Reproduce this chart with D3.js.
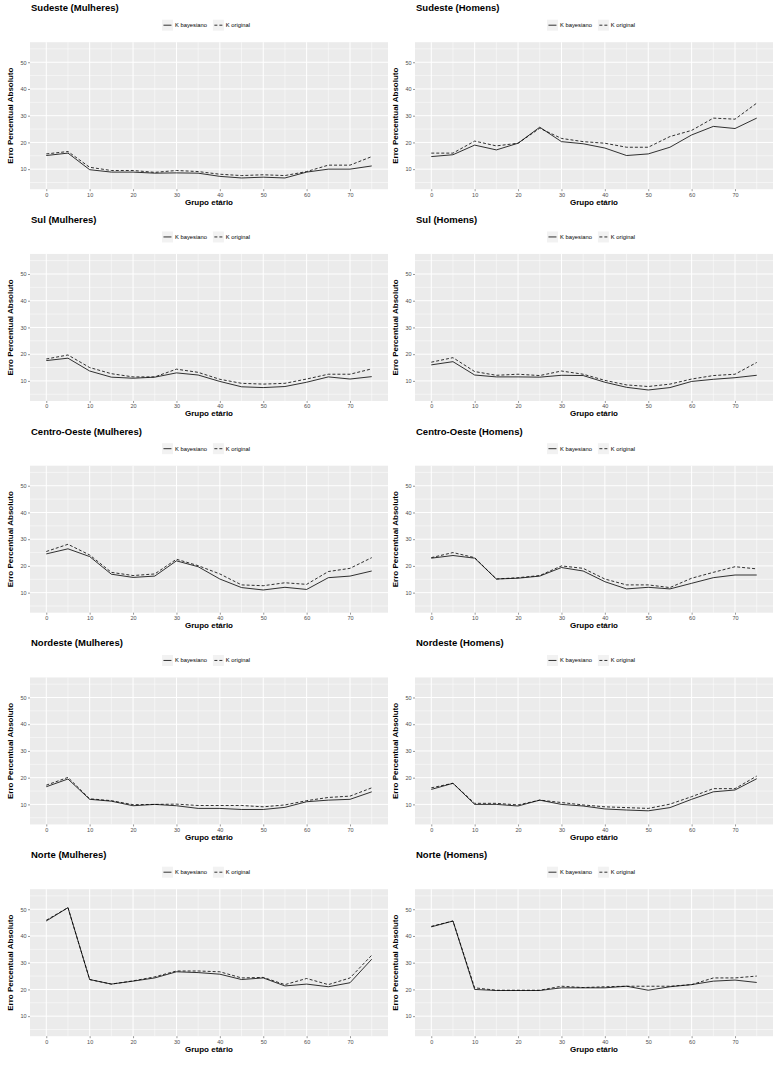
<!DOCTYPE html>
<html><head><meta charset="utf-8">
<script src="https://cdn.jsdelivr.net/npm/d3@7"></script>
<style>
body{margin:0;background:#fff}
svg{display:block}
text{font-family:"Liberation Sans",Arial,Helvetica,sans-serif}
</style>
</head><body>
<svg id="chart" width="784" height="1073"></svg>
<script>
// ---------- data ----------
const ages = [0,5,10,15,20,25,30,35,40,45,50,55,60,65,70,75];
const xTickValues = [0,10,20,30,40,50,60,70];
const yTickValues = [10,20,30,40,50];
const seriesLabels = ["K bayesiano","K original"];
const xAxisTitle = "Grupo etário";
const yAxisTitle = "Erro Percentual Absoluto";
const panelTitles = [
  "Sudeste (Mulheres)","Sudeste (Homens)",
  "Sul (Mulheres)","Sul (Homens)",
  "Centro-Oeste (Mulheres)","Centro-Oeste (Homens)",
  "Nordeste (Mulheres)","Nordeste (Homens)",
  "Norte (Mulheres)","Norte (Homens)"
];

const sudesteMulheresBayes = [15.1,16.0,9.8,8.9,8.9,8.5,8.6,8.5,7.3,6.7,7.0,6.7,8.9,10.0,10.0,11.2];
const sudesteMulheresOrig  = [15.7,16.6,10.7,9.5,9.5,8.8,9.5,9.1,8.1,7.6,7.9,7.6,9.1,11.5,11.5,14.7];
const sudesteHomensBayes   = [14.7,15.4,19.0,17.2,19.7,25.7,20.3,19.5,17.9,15.1,15.7,18.2,22.8,26.0,25.2,29.1];
const sudesteHomensOrig    = [16.0,16.0,20.5,18.7,19.7,25.3,21.5,20.3,19.7,18.2,18.2,22.2,24.5,29.1,28.7,34.7];
const sulMulheresBayes     = [17.6,18.5,13.7,11.4,11.0,11.4,13.0,12.2,9.8,7.8,7.5,7.9,9.5,11.5,10.7,11.6];
const sulMulheresOrig      = [18.2,19.7,15.0,12.7,11.5,11.5,14.4,13.2,10.6,9.1,8.8,9.1,10.7,12.5,12.5,14.5];
const sulHomensBayes       = [16.0,17.2,12.2,11.5,11.5,11.4,12.1,12.0,9.5,7.6,6.6,7.5,9.8,10.6,11.2,12.1];
const sulHomensOrig        = [17.0,18.7,13.5,12.1,12.5,12.0,13.7,12.5,10.2,8.5,7.9,8.8,10.7,12.0,12.5,16.9];
const coMulheresBayes      = [24.5,26.4,23.5,16.9,15.7,16.2,21.9,19.7,15.1,11.9,11.0,12.0,11.2,15.6,16.2,18.1];
const coMulheresOrig       = [25.4,28.1,24.1,17.6,16.4,17.0,22.5,20.1,17.0,12.9,12.6,13.7,13.1,17.9,19.1,23.1];
const coHomensBayes        = [22.9,23.9,22.9,15.1,15.4,16.2,19.4,18.1,14.1,11.4,12.0,11.4,13.5,15.6,16.6,16.6];
const coHomensOrig         = [23.1,25.0,23.1,15.1,15.6,16.4,20.0,19.1,15.1,12.9,12.9,11.9,15.4,17.6,19.7,18.9];
const nordesteMulheresBayes= [16.6,19.5,11.9,11.2,9.5,10.0,9.5,8.5,8.5,8.1,8.1,8.9,11.0,11.6,11.9,14.7];
const nordesteMulheresOrig = [17.2,20.1,12.1,11.4,9.9,10.0,10.1,9.6,9.6,9.6,9.1,9.8,11.4,12.6,13.1,16.2];
const nordesteHomensBayes  = [15.6,17.9,10.0,10.0,9.4,11.6,10.0,9.4,8.3,7.9,7.6,8.8,11.9,14.7,15.4,19.6];
const nordesteHomensOrig   = [16.2,17.9,10.4,10.4,9.8,11.6,10.7,9.8,9.1,8.8,8.5,10.1,12.9,15.9,15.9,20.6];
const norteMulheresBayes   = [45.6,50.6,23.7,22.0,23.1,24.3,26.6,26.3,25.7,23.7,24.3,21.3,22.0,21.0,22.5,31.3];
const norteMulheresOrig    = [45.9,50.6,23.7,22.0,23.2,24.7,26.9,26.9,26.6,24.3,24.5,21.8,24.1,21.8,24.3,32.8];
const norteHomensBayes     = [43.4,45.6,20.0,19.6,19.6,19.6,20.6,20.6,20.6,21.2,19.7,21.0,21.8,23.1,23.5,22.6];
const norteHomensOrig      = [43.6,45.6,20.6,19.7,19.7,19.7,21.2,20.7,21.0,21.2,21.2,21.2,21.8,24.3,24.3,25.0];

const bayesSeries = [sudesteMulheresBayes,sudesteHomensBayes,sulMulheresBayes,sulHomensBayes,
  coMulheresBayes,coHomensBayes,nordesteMulheresBayes,nordesteHomensBayes,norteMulheresBayes,norteHomensBayes];
const origSeries = [sudesteMulheresOrig,sudesteHomensOrig,sulMulheresOrig,sulHomensOrig,
  coMulheresOrig,coHomensOrig,nordesteMulheresOrig,nordesteHomensOrig,norteMulheresOrig,norteHomensOrig];

// ---------- layout ----------
const svg = d3.select("#chart");
const colLeft = [30, 415];
const panelW = 358, panelH = 147;
const firstTop = 42.2, rowStep = 211.75;
const xDomain = [-3.75, 78.75];
const yDomain = [2.5, 57.5];
const xMinor = [5,15,25,35,45,55,65,75];
const yMinor = [5,15,25,35,45,55];

panelTitles.forEach((title, i) => {
  const row = Math.floor(i/2), col = i % 2;
  const left = colLeft[col], top = firstTop + row*rowStep;
  const x = d3.scaleLinear().domain(xDomain).range([left, left+panelW]);
  const y = d3.scaleLinear().domain(yDomain).range([top+panelH, top]);
  const g = svg.append("g");

  // panel background
  g.append("rect").attr("x", left).attr("y", top).attr("width", panelW).attr("height", panelH).attr("fill", "#ebebeb");

  // minor grid
  g.selectAll(null).data(xMinor).join("line")
    .attr("x1", d => x(d)).attr("x2", d => x(d)).attr("y1", top).attr("y2", top+panelH)
    .attr("stroke", "#fff").attr("stroke-width", 0.5);
  g.selectAll(null).data(yMinor).join("line")
    .attr("y1", d => y(d)).attr("y2", d => y(d)).attr("x1", left).attr("x2", left+panelW)
    .attr("stroke", "#fff").attr("stroke-width", 0.5);
  // major grid
  g.selectAll(null).data(xTickValues).join("line")
    .attr("x1", d => x(d)).attr("x2", d => x(d)).attr("y1", top).attr("y2", top+panelH)
    .attr("stroke", "#fff").attr("stroke-width", 1);
  g.selectAll(null).data(yTickValues).join("line")
    .attr("y1", d => y(d)).attr("y2", d => y(d)).attr("x1", left).attr("x2", left+panelW)
    .attr("stroke", "#fff").attr("stroke-width", 1);

  // lines
  const line = d3.line().x((d, k) => x(ages[k])).y(d => y(d));
  g.append("path").datum(origSeries[i]).attr("d", line)
    .attr("fill", "none").attr("stroke", "#000").attr("stroke-width", 0.8)
    .attr("stroke-dasharray", "3,2");
  g.append("path").datum(bayesSeries[i]).attr("d", line)
    .attr("fill", "none").attr("stroke", "#000").attr("stroke-width", 0.8);

  // axes
  const xa = g.append("g").attr("transform", `translate(0,${top+panelH})`)
    .call(d3.axisBottom(x).tickValues(xTickValues).tickSize(2).tickPadding(1.5));
  const ya = g.append("g").attr("transform", `translate(${left},0)`)
    .call(d3.axisLeft(y).tickValues(yTickValues).tickSize(2).tickPadding(1.5));
  [xa, ya].forEach(a => {
    a.select(".domain").remove();
    a.selectAll(".tick line").attr("stroke", "#333").attr("stroke-width", 0.5);
    a.selectAll(".tick text").attr("fill", "#4d4d4d").style("font-size", "5.5px")
      .style("font-family", '"Liberation Sans",Arial,sans-serif');
  });

  // axis titles
  g.append("text").attr("x", left + panelW/2).attr("y", top + panelH + 15.5)
    .attr("text-anchor", "middle").style("font-size", "8px").style("font-weight", "bold")
    .attr("fill", "#000").text(xAxisTitle);
  g.append("text").attr("transform", `translate(${left - 17},${top + panelH/2}) rotate(-90)`)
    .attr("text-anchor", "middle").style("font-size", "8px").style("font-weight", "bold")
    .attr("fill", "#000").text(yAxisTitle);

  // panel title
  g.append("text").attr("x", left + 1).attr("y", top - 31)
    .style("font-size", "9.5px").style("font-weight", "bold").attr("fill", "#000").text(title);

  // legend
  const lg = g.append("g");
  const keyW = 11, keyH = 11, gapKT = 2, gapItem = 6;
  let cx = 0;
  seriesLabels.forEach((lab, k) => {
    const it = lg.append("g").attr("transform", `translate(${cx},0)`);
    it.append("rect").attr("x", 0).attr("y", -keyH/2).attr("width", keyW).attr("height", keyH).attr("fill", "#f2f2f2");
    it.append("line").attr("x1", 1.5).attr("x2", keyW-1.5).attr("y1", 0).attr("y2", 0)
      .attr("stroke", "#000").attr("stroke-width", 0.8)
      .attr("stroke-dasharray", k === 1 ? "3,2" : null);
    const t = it.append("text").attr("x", keyW + gapKT).attr("y", 2).style("font-size", "5.8px")
      .attr("fill", "#000").text(lab);
    cx += keyW + gapKT + t.node().getComputedTextLength() + gapItem;
  });
  const totalW = cx - gapItem;
  lg.attr("transform", `translate(${left + panelW/2 - totalW/2 - 3},${top - 17})`);
});
</script>
</body></html>
